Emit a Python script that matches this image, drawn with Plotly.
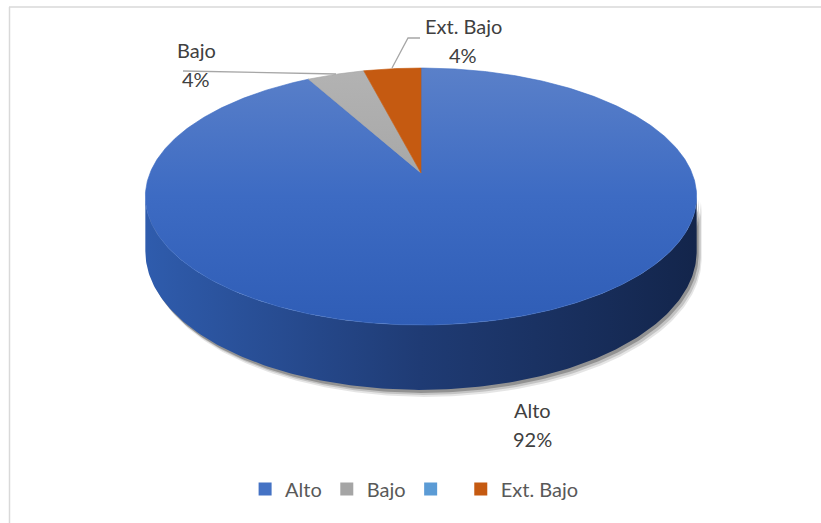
import numpy as np
import plotly.graph_objects as go

# ---- data ----
categories = ["Alto", "Bajo", " ", "Ext. Bajo"]
values = [92, 4, 0, 4]
colors = ["#4472c4", "#a5a5a5", "#5b9bd5", "#c55a11"]

# ---- geometry of the perspective pie (pixel space) ----
CX, CY = 421.0, 173.0      # apex of slices
A, B = 271.0, 124.2        # semi axes before perspective
K = 0.183                  # perspective factor
D = 53.0                   # thickness

def proj(theta_deg, drop=0.0):
    t = np.radians(theta_deg)
    u, v = np.sin(t), np.cos(t)
    den = 1 + K * v
    return CX + A * u / den, CY - B * v / den + drop * D / den

total = float(sum(values))
starts = np.cumsum([0] + values[:-1]) / total * 360.0
ends = np.cumsum(values) / total * 360.0

fig = go.Figure()

# side wall (visible front part)
t_vis0 = np.degrees(np.arccos(-K))
t_vis1 = 360 - t_vis0
side_fill = {
    "Alto": ["#2f5cad", "#1f3b74", "#13254b"],
    "Bajo": ["#8c8c8c", "#6e6e6e", "#545454"],
    "Ext. Bajo": ["#a04a0e", "#80390a", "#602a07"],
}
top_fill = {
    "Alto": ["#5a80c9", "#3d6bc3", "#2f5db6"],
    "Bajo": ["#b3b3b3", "#a5a5a5", "#999999"],
    "Ext. Bajo": ["#c55a11", "#c55a11", "#c55a11"],
}

side_polys = []
for cat, s, e in zip(categories, starts, ends):
    a0, a1 = max(s, t_vis0), min(e, t_vis1)
    if a1 <= a0:
        continue
    th = np.linspace(a0, a1, 200)
    xt, yt = proj(th)
    xb, yb = proj(th[::-1], 1.0)
    side_polys.append((cat, np.concatenate([xt, xb, xt[:1]]), np.concatenate([yt, yb, yt[:1]])))

# soft shadow
for dx, dy, op in [(5, 7, 0.10), (4, 5, 0.15), (2, 3, 0.25)]:
    for cat, xs, ys in side_polys:
        fig.add_trace(go.Scatter(x=xs + dx, y=ys + dy, fill="toself", mode="lines",
                                 line=dict(width=0), fillcolor=f"rgba(0,0,0,{op})",
                                 showlegend=False, hoverinfo="skip"))

for cat, xs, ys in side_polys:
    c = side_fill[cat]
    fig.add_trace(go.Scatter(
        x=xs, y=ys, fill="toself", mode="lines", line=dict(width=0),
        fillgradient=dict(type="horizontal", start=xs.min(), stop=xs.max(),
                          colorscale=[[0, c[0]], [0.5, c[1]], [1, c[2]]]),
        showlegend=False, hoverinfo="skip"))

# top surfaces
top_y = proj(0.0)[1]
bot_y = proj(180.0)[1]
for cat, s, e, v in zip(categories, starts, ends, values):
    if v <= 0:
        continue
    th = np.linspace(s, e, max(20, int((e - s) * 2)))
    xr, yr = proj(th)
    xs = np.concatenate([[CX], xr, [CX]])
    ys = np.concatenate([[CY], yr, [CY]])
    c = top_fill[cat]
    fig.add_trace(go.Scatter(
        x=xs, y=ys, fill="toself", mode="lines", line=dict(width=0.6, color=c[1]),
        fillgradient=dict(type="vertical", start=top_y, stop=bot_y,
                          colorscale=[[0, c[0]], [0.5, c[1]], [1, c[2]]]),
        showlegend=False, name=cat, hoverinfo="skip"))

# legend entries
for cat, col in zip(categories, colors):
    fig.add_trace(go.Scatter(x=[None], y=[None], mode="markers", name=cat,
                             marker=dict(symbol="square", size=13, color=col)))

# data labels
label_pos = {"Alto": (532, 410), "Bajo": (196, 50), "Ext. Bajo": (463, 26)}
annotations = []
for cat, v in zip(categories, values):
    if cat not in label_pos:
        continue
    lx, ly = label_pos[cat]
    pct = f"{round(v / total * 100)}%"
    for txt, yy in [(cat, ly), (pct, ly + 29)]:
        annotations.append(dict(x=lx, y=yy, xref="x", yref="y", text=txt, showarrow=False,
                                xanchor="center", yanchor="middle",
                                font=dict(family="Lato", size=20, color="#404040")))

shapes = [
    dict(type="path", path="M 392,68 L 408,38 L 420,38", xref="x", yref="y",
         line=dict(color="#a6a6a6", width=1.3)),
    dict(type="line", x0=183, y0=71, x1=336, y1=74, xref="x", yref="y",
         line=dict(color="#a6a6a6", width=1.3)),
    dict(type="line", x0=9, y0=7, x1=821, y1=7, xref="x", yref="y",
         line=dict(color="#d9d9d9", width=1.5)),
    dict(type="line", x0=9.5, y0=7, x1=9.5, y1=523, xref="x", yref="y",
         line=dict(color="#d9d9d9", width=1.5)),
]

fig.update_layout(
    width=821, height=523,
    margin=dict(l=0, r=0, t=0, b=0),
    paper_bgcolor="white", plot_bgcolor="white",
    xaxis=dict(range=[0, 821], visible=False, fixedrange=True),
    yaxis=dict(range=[523, 0], visible=False, fixedrange=True),
    showlegend=True,
    legend=dict(orientation="h", x=0.505, xanchor="center", y=(523 - 489) / 523,
                yanchor="middle", font=dict(family="Lato", size=20, color="#595959"),
                itemwidth=30, bgcolor="rgba(0,0,0,0)"),
    annotations=annotations,
    shapes=shapes,
)

fig.write_html("out.html")
